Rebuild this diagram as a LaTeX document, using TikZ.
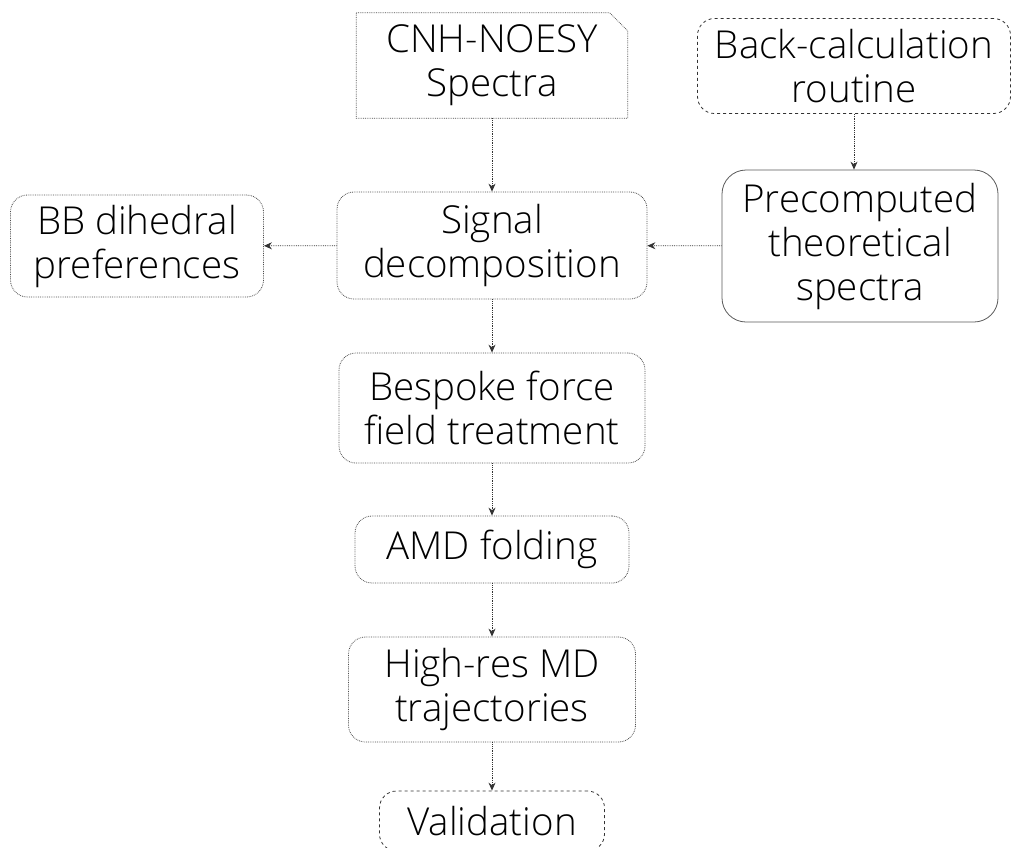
\documentclass[tikz,border=0pt]{standalone}
\usepackage{fontspec}
\setmainfont{Open Sans}[UprightFont={* Light}]
\usepackage{tikz}
\usetikzlibrary{positioning, calc, arrows.meta}

\begin{document}
\begin{tikzpicture}[
        x=1pt, y=-1pt,
        >={Stealth[length=8pt, width=7pt]},
        % node look shared by every step of the flow
        every node/.style={font=\fontsize{38.5}{44}\selectfont, align=center, inner sep=0pt},
        stepbox/.style={draw=black!70, densely dotted, line width=0.8pt, rounded corners=17pt},
        dashbox/.style={draw=black!80, dashed, line width=0.8pt, rounded corners=17pt},
        solidbox/.style={draw=black!65, line width=0.8pt, rounded corners=24pt},
        flow/.style={->, draw=black!80, densely dotted, line width=0.8pt}
    ]

    \useasboundingbox (0,0) rectangle (1012,847);

    % --- Steps ---
    % Input spectra (box with a snipped corner, drawn below)
    \node[minimum width=271pt, minimum height=105pt] (nmr) at (492,65.5) {CNH-NOESY\\Spectra};
    \node[dashbox, minimum width=313pt, minimum height=95pt] (backcalc) at (854,66) {Back-calculation\\routine};
    \node[solidbox, minimum width=276pt, minimum height=152pt] (precomp) at (860,246) {Precomputed\\theoretical\\spectra};
    \node[stepbox, minimum width=310pt, minimum height=107pt] (signal) at (492,245.5) {Signal\\decomposition};
    \node[stepbox, minimum width=253pt, minimum height=102pt] (dihedral) at (137,246) {BB dihedral\\preferences};
    \node[stepbox, minimum width=306pt, minimum height=110pt] (bespoke) at (492,408) {Bespoke force\\field treatment};
    \node[stepbox, minimum width=274pt, minimum height=67pt] (amd) at (492,549.5) {AMD folding};
    \node[stepbox, minimum width=287pt, minimum height=105pt] (highres) at (492,689.5) {High-res MD\\trajectories};
    \node[dashbox, minimum width=225pt, minimum height=60pt] (valid) at (492,821) {Validation};

    % snipped top-right corner of the spectra box
    \draw[draw=black!70, densely dotted, line width=0.8pt]
        (nmr.north west) -- ($(nmr.north east)+(-18,0)$) -- ($(nmr.north east)+(0,18)$)
        -- (nmr.south east) -- (nmr.south west) -- cycle;

    % --- Connectors ---
    \draw[flow] (nmr) -- (signal);
    \draw[flow] (backcalc) -- (backcalc |- precomp.north);
    \draw[flow] (precomp) -- (signal);
    \draw[flow] (signal) -- (dihedral);
    \draw[flow] (signal) -- (bespoke);
    \draw[flow] (bespoke) -- (amd);
    \draw[flow] (amd) -- (highres);
    \draw[flow] (highres) -- (valid);

\end{tikzpicture}
\end{document}
